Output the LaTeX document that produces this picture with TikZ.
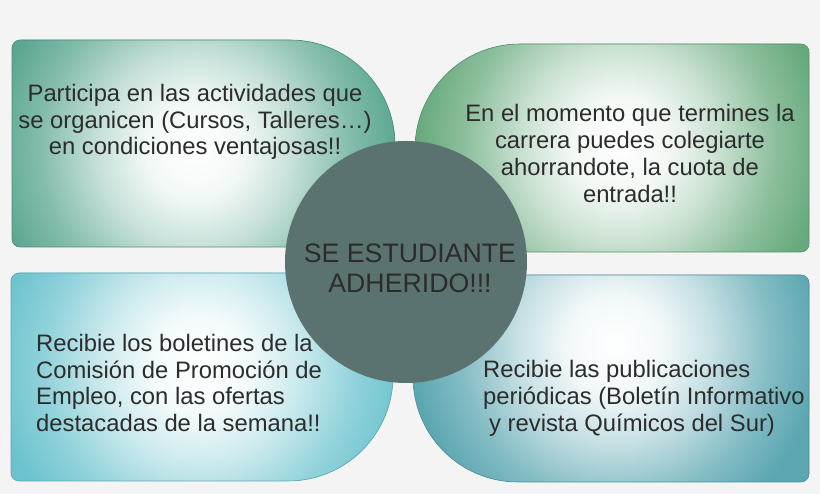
\documentclass[tikz,border=0pt]{standalone}
\usepackage{fontspec}
\setmainfont{Liberation Sans}
\definecolor{bg}{HTML}{F4F4F4}
\definecolor{cTL}{HTML}{5AA690}
\definecolor{cTR}{HTML}{66A97C}
\definecolor{cBL}{HTML}{6CC3CE}
\definecolor{cBR}{HTML}{5BA6B1}
\definecolor{cC}{HTML}{5B7370}
\definecolor{txt}{HTML}{2C2C2C}
\newcommand\mkshade[2]{\pgfdeclareradialshading{#1}{\pgfpoint{0bp}{0bp}}{color(0bp)=(white); color(6bp)=(white!92!#2); color(12bp)=(white!65!#2); color(19bp)=(white!25!#2); color(25bp)=(#2); color(50bp)=(#2)}}
\mkshade{shTL}{cTL}
\mkshade{shTR}{cTR}
\mkshade{shBL}{cBL}
\mkshade{shBR}{cBR}
\tikzset{
  pTL/.style={insert path={(12,255) -- (12,446) arc[start angle=180,end angle=90,radius=8] -- (290,454) arc[start angle=90,end angle=0,radius=105] -- (395,255) arc[start angle=0,end angle=-90,radius=8] -- (20,247) arc[start angle=270,end angle=180,radius=8] -- cycle}},
  pTR/.style={insert path={(415,250) -- (415,345) arc[start angle=180,end angle=90,radius=105] -- (801,450) arc[start angle=90,end angle=0,radius=8] -- (809,250) arc[start angle=0,end angle=-90,radius=8] -- (423,242) arc[start angle=270,end angle=180,radius=8] -- cycle}},
  pBL/.style={insert path={(11,21) -- (11,213) arc[start angle=180,end angle=90,radius=8] -- (385,221) arc[start angle=90,end angle=0,radius=8] -- (393,118) arc[start angle=0,end angle=-90,radius=105] -- (19,13) arc[start angle=270,end angle=180,radius=8] -- cycle}},
  pBR/.style={insert path={(413,117) -- (413,211) arc[start angle=180,end angle=90,radius=8] -- (801,219) arc[start angle=90,end angle=0,radius=8] -- (809,20) arc[start angle=0,end angle=-90,radius=8] -- (518,12) arc[start angle=270,end angle=180,radius=105] -- cycle}},
  boxtext/.style={text=txt, inner sep=0pt, font=\fontsize{23.8}{26.8}\selectfont},
  ctext/.style={text=txt, inner sep=0pt, align=center, font=\fontsize{26.7}{30}\selectfont},
}
\begin{document}
\begin{tikzpicture}[x=1pt,y=1pt]
\useasboundingbox (0,0) rectangle (820,494);
\fill[bg] (0,0) rectangle (820,494);
% top-left
\fill[cTL, pTL];
\begin{scope}\clip[pTL]; \shade[shading=shTL] (195,344) circle (205); \end{scope}
\draw[cTL!85!black, line width=0.6pt, pTL];
% top-right
\fill[cTR, pTR];
\begin{scope}\clip[pTR]; \shade[shading=shTR] (620,349) circle (205); \end{scope}
\draw[cTR!85!black, line width=0.6pt, pTR];
% bottom-left
\fill[cBL, pBL];
\begin{scope}\clip[pBL]; \shade[shading=shBL] (200,129) circle (205); \end{scope}
\draw[cBL!85!black, line width=0.6pt, pBL];
% bottom-right
\fill[cBR, pBR];
\begin{scope}\clip[pBR]; \shade[shading=shBR] (615,149) circle (205); \end{scope}
\draw[cBR!85!black, line width=0.6pt, pBR];
% texts
\node[boxtext, align=center] (tl) at (195,372) {Participa en las actividades que\\se organicen (Cursos, Talleres…)\\en condiciones ventajosas!!};
\node[boxtext, align=center] (tr) at (630,340.5) {En el momento que termines la\\carrera puedes colegiarte\\ahorrandote, la cuota de\\entrada!!};
\node[boxtext, align=left, anchor=west] (bl) at (36,111) {Recibie los boletines de la\\Comisión de Promoción de\\Empleo, con las ofertas\\destacadas de la semana!!};
\node[boxtext, align=left, anchor=west] (br) at (483,95.5) {Recibie las publicaciones\\periódicas (Boletín Informativo\\\hspace*{6pt}y revista Químicos del Sur)};
% circle
\node[circle, fill=cC, minimum size=242pt, inner sep=0pt] (c) at (406,232) {};
\node[ctext] (ct) at (410,226) {SE ESTUDIANTE\\ADHERIDO!!!};
\end{tikzpicture}
\end{document}
